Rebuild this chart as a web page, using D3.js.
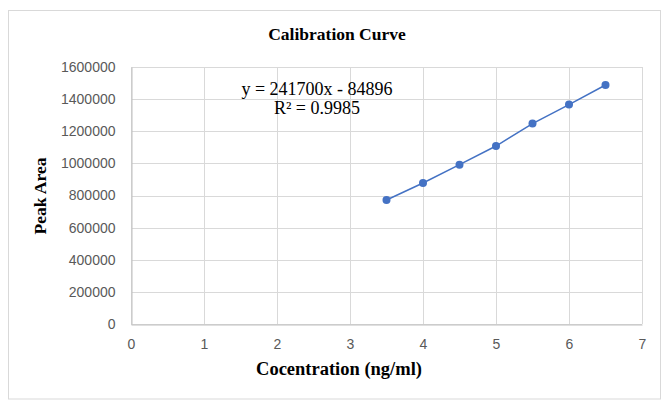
<!DOCTYPE html>
<html>
<head>
<meta charset="utf-8">
<script src="https://cdn.jsdelivr.net/npm/d3@7"></script>
<style>
  html, body { margin: 0; padding: 0; background: #ffffff; }
  svg { display: block; }
</style>
</head>
<body>
<svg id="chart" width="662" height="404"></svg>
<script>
// Data
const concentrations = [3.5, 4.0, 4.5, 5.0, 5.5, 6.0, 6.5];
const peakAreas = [772000, 878000, 992000, 1108000, 1248000, 1366000, 1488000];
const xTicks = [0, 1, 2, 3, 4, 5, 6, 7];
const yTicks = [0, 200000, 400000, 600000, 800000, 1000000, 1200000, 1400000, 1600000];
const titleText = "Calibration Curve";
const xTitle = "Cocentration (ng/ml)";
const yTitle = "Peak Area";
const equationLines = ["y = 241700x - 84896", "R\u00B2 = 0.9985"];

const svg = d3.select("#chart");
const plot = { left: 131, right: 642, top: 67, bottom: 324 };
const serif = "'Liberation Serif', 'Times New Roman', serif";

// outer chart border
svg.append("rect")
  .attr("x", 8.5).attr("y", 10.5)
  .attr("width", 652).attr("height", 388.5)
  .attr("fill", "#ffffff")
  .attr("stroke", "#d9d9d9").attr("stroke-width", 1);

const x = d3.scaleLinear().domain([0, 7]).range([plot.left, plot.right]);
const y = d3.scaleLinear().domain([0, 1600000]).range([plot.bottom, plot.top]);

// gridlines
const grid = svg.append("g");
grid.selectAll("line.h").data(yTicks).enter().append("line")
  .attr("x1", plot.left).attr("x2", plot.right)
  .attr("y1", d => Math.round(y(d)) + 0.5).attr("y2", d => Math.round(y(d)) + 0.5)
  .attr("stroke", "#d9d9d9").attr("stroke-width", 1);
grid.selectAll("line.v").data(xTicks).enter().append("line")
  .attr("y1", plot.top).attr("y2", plot.bottom)
  .attr("x1", d => Math.round(x(d)) + 0.5).attr("x2", d => Math.round(x(d)) + 0.5)
  .attr("stroke", "#d9d9d9").attr("stroke-width", 1);

// axes
const xAxis = d3.axisBottom(x).tickValues(xTicks).tickSize(0).tickPadding(15).tickFormat(d3.format("d"));
const yAxis = d3.axisLeft(y).tickValues(yTicks).tickSize(0).tickPadding(16).tickFormat(d3.format("d"));

const gx = svg.append("g").attr("transform", `translate(0,${plot.bottom + 0.5})`).call(xAxis);
const gy = svg.append("g").attr("transform", `translate(${plot.left + 0.5},0)`).call(yAxis);
[gx, gy].forEach(g => {
  g.select(".domain").attr("stroke", "#bfbfbf");
  g.selectAll("text")
    .attr("fill", "#595959")
    .style("font-family", "'Liberation Sans', Arial, sans-serif")
    .style("font-size", "14px");
});

// series line + markers
const line = d3.line().x(d => x(d[0])).y(d => y(d[1]));
const pts = concentrations.map((c, i) => [c, peakAreas[i]]);
svg.append("path").datum(pts)
  .attr("d", line)
  .attr("fill", "none")
  .attr("stroke", "#4472c4")
  .attr("stroke-width", 1.5);
svg.selectAll("circle.pt").data(pts).enter().append("circle")
  .attr("cx", d => x(d[0])).attr("cy", d => y(d[1]))
  .attr("r", 4)
  .attr("fill", "#4472c4");

// title
svg.append("text")
  .attr("x", 337).attr("y", 40)
  .attr("text-anchor", "middle")
  .style("font-family", serif)
  .style("font-weight", "bold")
  .style("font-size", "17.5px")
  .attr("fill", "#000")
  .text(titleText);

// equation
svg.append("text")
  .attr("x", 317).attr("y", 95)
  .attr("text-anchor", "middle")
  .style("font-family", serif)
  .style("font-size", "18px")
  .attr("fill", "#000")
  .text(equationLines[0]);
svg.append("text")
  .attr("x", 317).attr("y", 114)
  .attr("text-anchor", "middle")
  .style("font-family", serif)
  .style("font-size", "18px")
  .attr("fill", "#000")
  .text(equationLines[1]);

// axis titles
svg.append("text")
  .attr("x", 339).attr("y", 375)
  .attr("text-anchor", "middle")
  .style("font-family", serif)
  .style("font-weight", "bold")
  .style("font-size", "18.5px")
  .attr("fill", "#000")
  .text(xTitle);
svg.append("text")
  .attr("transform", "translate(46,196) rotate(-90)")
  .attr("text-anchor", "middle")
  .style("font-family", serif)
  .style("font-weight", "bold")
  .style("font-size", "17.5px")
  .attr("fill", "#000")
  .text(yTitle);
</script>
</body>
</html>
